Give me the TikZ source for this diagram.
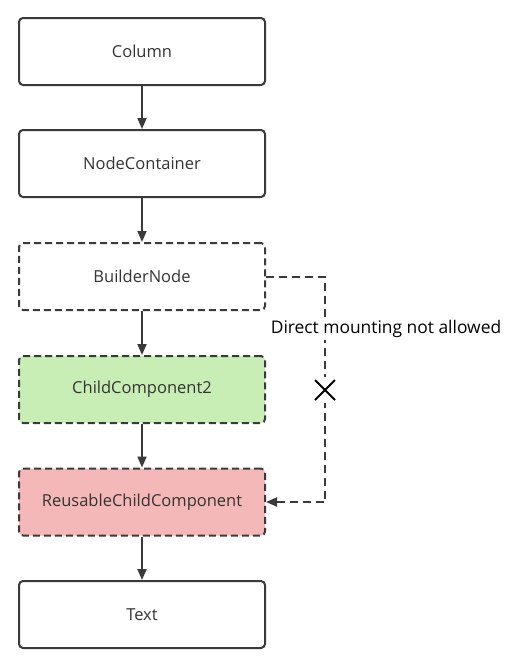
\documentclass[tikz,border=0pt]{standalone}
\usepackage{fontspec}
\setmainfont{Open Sans}
\usetikzlibrary{arrows.meta}
\definecolor{ink}{HTML}{3A3A3A}
\definecolor{txt}{HTML}{333333}
\definecolor{greenfill}{HTML}{C9EEB5}
\definecolor{redfill}{HTML}{F5B8B8}
\begin{document}
\begin{tikzpicture}[x=1pt,y=-1pt,
  box/.style={draw=ink, line width=2pt, rounded corners=4pt, minimum width=246pt, minimum height=67pt, inner sep=0pt, font=\fontsize{16.5}{19}\selectfont, text=txt},
  dbox/.style={box, dash pattern=on 7pt off 4pt},
  arr/.style={draw=ink, line width=2pt, -{Triangle[length=11pt,width=9pt]}},
  darr/.style={arr, dash pattern=on 8pt off 5pt}
]
\useasboundingbox (0,0) rectangle (515,656);
\node[box] (col) at (142,51.5) {Column};
\node[box] (nc) at (142,163.5) {NodeContainer};
\node[dbox] (bn) at (142,276.5) {BuilderNode};
\node[dbox, fill=greenfill] (cc) at (142,389.5) {ChildComponent2};
\node[dbox, fill=redfill] (rc) at (142,502) {ReusableChildComponent};
\node[box] (tx) at (142,614.5) {Text};
\draw[arr] (col) -- (nc);
\draw[arr] (nc) -- (bn);
\draw[arr] (bn) -- (cc);
\draw[arr] (cc) -- (rc);
\draw[arr] (rc) -- (tx);
\coordinate (c1) at (325,276.5);
\coordinate (c2) at (325,502);
\draw[darr] (bn.east) -- (c1) -- (c2) -- (rc.east);
\node[fill=white, inner sep=2pt, font=\fontsize{17.4}{20}\selectfont, text=black] (lbl) at (386,329) {Direct mounting not allowed};
\node[fill=white, minimum size=26pt, inner sep=0pt] (xm) at (325,390) {};
\draw[black, line width=2pt] (xm.center) ++(-10,-10) -- ++(20,20);
\draw[black, line width=2pt] (xm.center) ++(10,-10) -- ++(-20,20);
\end{tikzpicture}
\end{document}
